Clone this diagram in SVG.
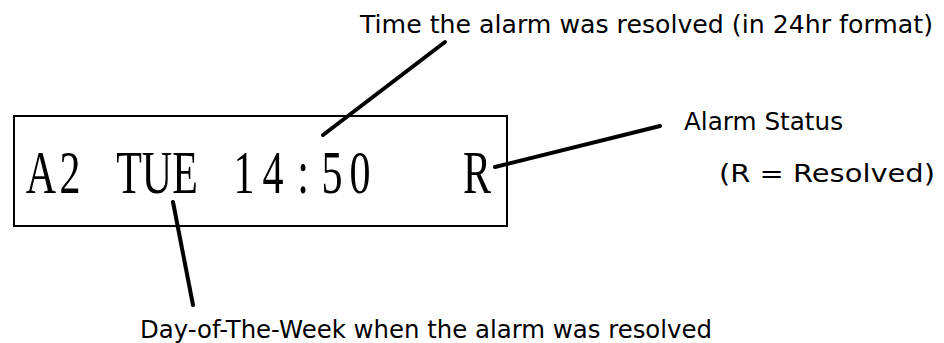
<svg xmlns="http://www.w3.org/2000/svg" width="944" height="343" viewBox="0 0 944 343">
<style>
.lbl{font-family:"DejaVu Sans","Liberation Sans",sans-serif;font-size:24px;fill:#000}
.lcd{font-family:"Liberation Serif","Times New Roman",serif;font-size:42px;fill:#000;text-anchor:middle}
.box{fill:none;stroke:#000;stroke-width:2}
.ptr{stroke:#000;stroke-width:4;stroke-linecap:round;fill:none}
</style>
<rect width="944" height="343" fill="#fff"/>
<g id="display">
<rect class="box" x="14" y="116" width="493" height="110"/>
<text class="lcd" transform="translate(0,193) scale(1,1.48)" x="41 70 129 157 185 244 273 303 332 360 477" y="0">A2TUE14:50R</text>
</g>
<g id="label-time">
<text class="lbl" x="360" y="33" textLength="573" lengthAdjust="spacingAndGlyphs">Time the alarm was resolved (in 24hr format)</text>
</g>
<g id="label-status">
<text class="lbl" x="684" y="130" textLength="159" lengthAdjust="spacingAndGlyphs">Alarm Status</text>
<text class="lbl" x="719" y="182" textLength="216" lengthAdjust="spacingAndGlyphs">(R = Resolved)</text>
</g>
<g id="label-day">
<text class="lbl" x="140" y="338" textLength="572" lengthAdjust="spacingAndGlyphs">Day-of-The-Week when the alarm was resolved</text>
</g>
<g id="connectors">
<line class="ptr" x1="445" y1="42" x2="323" y2="135"/>
<line class="ptr" x1="660" y1="126" x2="495" y2="167"/>
<line class="ptr" x1="173" y1="202" x2="193" y2="305"/>
</g>
</svg>
